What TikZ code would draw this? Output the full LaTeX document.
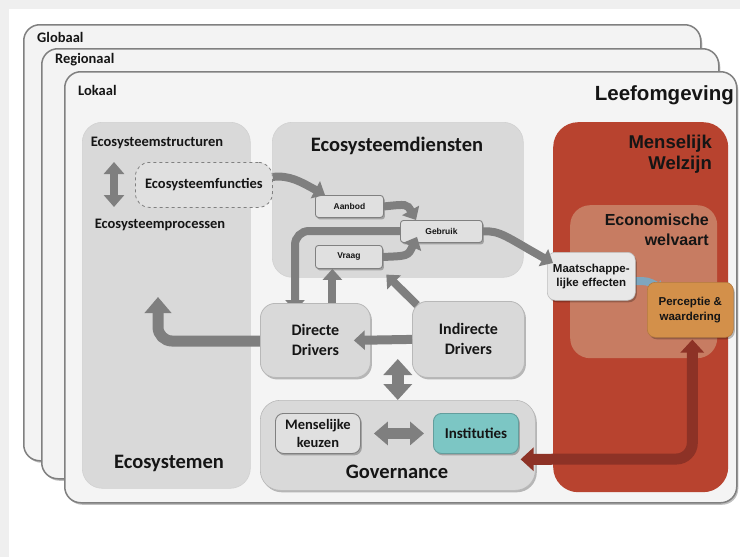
\documentclass[tikz,border=0pt]{standalone}
\usepackage{fontspec}
\setmainfont{Carlito}
\newfontfamily\arialf{Liberation Sans}
\usetikzlibrary{arrows.meta,shadows}
\definecolor{bggray}{HTML}{EFEFEF}
\definecolor{layerfill}{HTML}{F3F3F3}
\definecolor{layerline}{HTML}{808080}
\definecolor{panelfill}{HTML}{D9D9D9}
\definecolor{boxfill}{HTML}{E0E0E0}
\definecolor{arrgray}{HTML}{7F7F7F}
\definecolor{wellred}{HTML}{B8432F}
\definecolor{salmon}{HTML}{C77C62}
\definecolor{orangebox}{HTML}{D3904A}
\definecolor{teal}{HTML}{7CC6C4}
\definecolor{darkred}{HTML}{8D3226}
\definecolor{bluearr}{HTML}{7EA6BE}
\definecolor{txt}{HTML}{151515}
\tikzset{
  shad/.style={drop shadow={shadow xshift=1.5pt,shadow yshift=-2pt,opacity=0.25,fill=black}},
  layer/.style={draw=layerline,line width=1.5pt,fill=layerfill,rounded corners=16pt,anchor=north west,inner sep=0pt,shad},
  panel/.style={fill=panelfill,draw=black!18,line width=0.6pt,rounded corners=20pt,anchor=north west,inner sep=0pt},
  drvbox/.style={fill=panelfill,draw=black!28,line width=0.8pt,rounded corners=15pt,anchor=north west,inner sep=0pt,shad,align=center,text=txt,font=\fontsize{16}{20}\selectfont\bfseries},
  smallbox/.style={fill=boxfill,draw=layerline,line width=0.9pt,rounded corners=3pt,anchor=north west,inner sep=0pt,shad,text=txt,font=\arialf\fontsize{8.5}{10}\selectfont\bfseries},
  govbox/.style={draw=layerline,line width=0.9pt,rounded corners=8pt,anchor=north west,inner sep=0pt,shad,align=center,text=txt,font=\fontsize{14.5}{18}\selectfont\bfseries},
  lab/.style={inner sep=0pt,text=txt,font=\fontsize{14.5}{17}\selectfont\bfseries},
  biglab/.style={inner sep=0pt,text=txt,font=\fontsize{20.5}{24}\selectfont\bfseries},
  redlab/.style={inner sep=0pt,text=txt,align=right,font=\arialf\fontsize{18.5}{21}\selectfont\bfseries},
  garr/.style={draw=arrgray,line width=8pt,-{Triangle[width=19pt,length=11pt]}},
}
\begin{document}
\begin{tikzpicture}[x=1pt,y=-1pt]
\useasboundingbox (0,0) rectangle (740,557);
\fill[white] (0,0) rectangle (740,557);
\fill[bggray] (0,0) rectangle (740,8.5);
\fill[bggray] (0,0) rectangle (8.5,557);

% scale layers
\node[layer,minimum width=677pt,minimum height=436pt] (glob) at (23,24) {};
\node[lab,anchor=west] (tglob) at (37,37) {Globaal};
\node[layer,minimum width=677pt,minimum height=430pt] (reg) at (41,48) {};
\node[lab,anchor=west] (treg) at (55,60) {Regionaal};
\node[layer,minimum width=672pt,minimum height=431pt,fill=layerfill!90!white] (lok) at (64,71) {};
\node[lab,anchor=west] (tlok) at (78,90) {Lokaal};
\node[inner sep=0pt,anchor=east,text=txt,font=\arialf\fontsize{20.5}{24}\selectfont\bfseries] (tleef) at (734,95) {Leefomgeving};

% panels
\node[panel,minimum width=168pt,minimum height=366pt] (eco) at (82,122) {};
\node[biglab] (teco) at (169,463) {Ecosystemen};
\node[panel,minimum width=251pt,minimum height=155pt] (dienst) at (272,122) {};
\node[biglab] (tdienst) at (397,146) {Ecosysteemdiensten};
\node[panel,draw=black!28,minimum width=275pt,minimum height=90pt,shad] (gov) at (260,400) {};
\node[biglab] (tgov) at (397,472) {Governance};
\node[fill=wellred,rounded corners=25pt,anchor=north west,inner sep=0pt,minimum width=175pt,minimum height=370pt] (mw) at (553,122) {};
\node[redlab,anchor=north east] (tmw) at (712,135) {Menselijk\\Welzijn};
\node[fill=salmon,rounded corners=20pt,anchor=north west,inner sep=0pt,minimum width=147pt,minimum height=153pt] (ew) at (570,205) {};
\node[redlab,anchor=north east,font=\arialf\fontsize{16}{20}\selectfont\bfseries] (tew) at (709,214) {Economische\\welvaart};

% ecosystem contents
\node[lab] (tstruct) at (157,143) {Ecosysteemstructuren};
\node[lab] (tproc) at (160,225) {Ecosysteemprocessen};
\node[fill=boxfill,draw=layerline,dashed,line width=0.8pt,rounded corners=14pt,anchor=north west,inner sep=0pt,minimum width=137pt,minimum height=45pt,lab] (func) at (135,162) {Ecosysteemfuncties};
\coordinate (es1) at (114,162);
\coordinate (es2) at (114,207);
\draw[draw=arrgray,line width=8pt,{Triangle[width=20pt,length=12pt]}-{Triangle[width=20pt,length=12pt]}] (es1) -- (es2);

% arrows behind boxes
\draw[garr,rounded corners=14pt] (400,231) -- (295,231) -- (295,311);
\draw[draw=arrgray,line width=11pt,rounded corners=14pt,-{Triangle[width=26pt,length=16pt]}] (262,341) -- (158,341) -- (158,297);
\draw[draw=bluearr,line width=8pt,-{Triangle[width=13pt,length=8pt]}] (632,281) .. controls (648,281) .. (664,290);

% small boxes
\node[smallbox,minimum width=68pt,minimum height=22pt] (aanbod) at (315,195) {Aanbod};
\node[smallbox,minimum width=82pt,minimum height=22pt] (geb) at (400,220) {Gebruik};
\node[smallbox,minimum width=67pt,minimum height=23pt] (vraag) at (315,245) {Vraag};

% drivers
\node[drvbox,minimum width=110pt,minimum height=74pt] (dd) at (260,303) {Directe\\Drivers};
\node[drvbox,minimum width=112pt,minimum height=76pt] (id) at (412,301) {Indirecte\\Drivers};

% governance contents
\node[govbox,fill=boxfill,minimum width=85pt,minimum height=40pt] (mk) at (275,413) {Menselijke\\keuzen};
\node[govbox,fill=teal,draw=teal!80!black,minimum width=85pt,minimum height=40pt,font=\fontsize{15}{18}\selectfont\bfseries] (inst) at (433,413) {Instituties};

% welfare boxes
\node[fill=black!9,draw=black!25,line width=0.6pt,rounded corners=8pt,anchor=north west,inner sep=0pt,minimum width=88pt,minimum height=48pt,shad,align=center,text=txt,font=\arialf\fontsize{11.5}{13.5}\selectfont\bfseries] (ms) at (547,252) {Maatschappe-\\lijke effecten};
\node[fill=orangebox,draw=orangebox!85!black,line width=0.6pt,rounded corners=8pt,anchor=north west,inner sep=0pt,minimum width=86pt,minimum height=55pt,shad,align=center,text=txt,font=\arialf\fontsize{11.5}{15}\selectfont\bfseries] (perc) at (647,282) {Perceptie \&\\waardering};

% connectors between named nodes
\draw[garr] ([yshift=8pt]func.east) .. controls (290,175) and (301,182) .. ([xshift=10pt]aanbod.north west);
\draw[garr] (aanbod.east) .. controls (407,204) .. ([xshift=16pt]geb.north west);
\draw[garr] (vraag.east) .. controls (408,256) .. ([xshift=17pt,yshift=6pt]geb.south west);
\draw[garr] (geb.east) .. controls (500,230) and (508,238) .. ([xshift=6pt,yshift=-11pt]ms.north west);
\draw[garr] ([xshift=17pt]dd.north) -- ([xshift=17pt]dd.north |- vraag.south);
\draw[garr] ([xshift=5pt,yshift=-4pt]id.north west) -- ([xshift=-11.5pt,yshift=3pt]dienst.south);
\draw[garr,line width=9pt] (id.west) -- ([xshift=-17pt]dd.east);
\draw[draw=arrgray,line width=12pt,{Triangle[width=28pt,length=16pt]}-{Triangle[width=28pt,length=16pt]}] ([yshift=41pt]gov.north) -- (gov.north);
\draw[draw=arrgray,line width=11pt,{Triangle[width=23pt,length=14pt]}-{Triangle[width=23pt,length=14pt]}] ([xshift=13pt]mk.east) -- ([xshift=-9pt]inst.west);
\draw[draw=darkred,line width=11pt,rounded corners=16pt,{Triangle[width=23pt,length=13pt]}-{Triangle[width=23pt,length=13pt]}] ([xshift=2pt,yshift=-2pt]perc.south) -- ([xshift=2pt]perc.south |- 0,459) -- ([xshift=-15pt,yshift=-14pt]gov.east);
\end{tikzpicture}
\end{document}
